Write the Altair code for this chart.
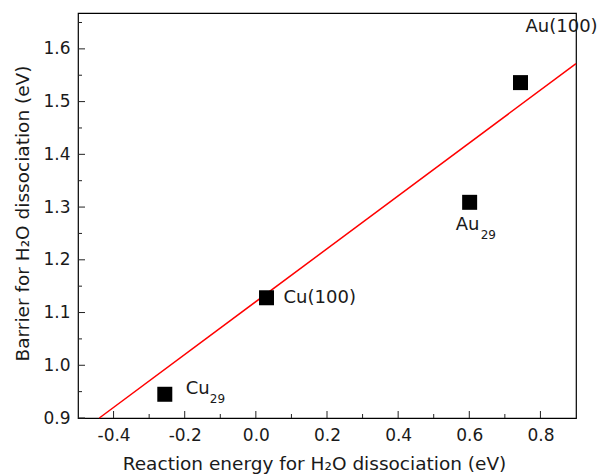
import altair as alt
import pandas as pd

# ---- data ----
materials = ["Cu29", "Cu(100)", "Au29", "Au(100)"]
reaction_energy = [-0.256, 0.030, 0.601, 0.744]
barrier = [0.945, 1.128, 1.309, 1.536]

fit_x = [-0.44, 0.90]
fit_y = [0.90, 1.572]

x_major = [-0.4, -0.2, 0.0, 0.2, 0.4, 0.6, 0.8]
x_minor = [-0.3, -0.1, 0.1, 0.3, 0.5, 0.7]
y_major = [0.9, 1.0, 1.1, 1.2, 1.3, 1.4, 1.5, 1.6]
y_minor = [0.95, 1.05, 1.15, 1.25, 1.35, 1.45, 1.55, 1.65]

FONT = "DejaVu Sans"
TXT = "#1a1a1a"
W, H = 498, 405

pts = pd.DataFrame({"material": materials, "x": reaction_energy, "y": barrier})
fit = pd.DataFrame({"x": fit_x, "y": fit_y})

xscale = alt.Scale(domain=[-0.5, 0.9], nice=False, zero=False)
yscale = alt.Scale(domain=[0.9, 1.668], nice=False, zero=False)

xaxis = alt.Axis(
    values=x_major, tickSize=0, domain=False, grid=False,
    labelExpr="datum.value < 0 ? '-' + format(-datum.value, '.1f') : format(datum.value, '.1f')",
    labelFont=FONT, labelFontSize=17, labelColor=TXT, labelPadding=9,
    title="Reaction energy for H\u2082O dissociation (eV)",
    titleFont=FONT, titleFontSize=18.5, titleFontWeight="normal", titleColor=TXT,
    titleX=236, titleY=45, titleBaseline="middle", titleAlign="center",
)
yaxis = alt.Axis(
    values=y_major, tickSize=0, domain=False, grid=False, format=".1f",
    labelFont=FONT, labelFontSize=17, labelColor=TXT, labelPadding=8,
    title="Barrier for H\u2082O dissociation (eV)",
    titleFont=FONT, titleFontSize=18.5, titleFontWeight="normal", titleColor=TXT,
    titleX=-56, titleY=200, titleAngle=-90, titleBaseline="middle", titleAlign="center",
)

line = alt.Chart(fit).mark_line(color="#ff0000", strokeWidth=1.5).encode(
    x=alt.X("x:Q", scale=xscale, axis=xaxis),
    y=alt.Y("y:Q", scale=yscale, axis=yaxis),
)

points = alt.Chart(pts).mark_point(
    shape="square", filled=True, color="black", size=225, opacity=1
).encode(
    x=alt.X("x:Q", scale=xscale),
    y=alt.Y("y:Q", scale=yscale),
)


def label(mat, text, dx, dy, size=18, baseline="middle"):
    return alt.Chart(pts).transform_filter(
        alt.datum.material == mat
    ).mark_text(
        text=text, align="left", baseline=baseline, dx=dx, dy=dy,
        font=FONT, fontSize=size, color=TXT,
    ).encode(
        x=alt.X("x:Q", scale=xscale),
        y=alt.Y("y:Q", scale=yscale),
    )


labels = [
    label("Cu(100)", "Cu(100)", 17, 0),
    label("Cu29", "Cu", 21, -5),
    label("Cu29", "29", 45, 9, size=12, baseline="alphabetic"),
    label("Au29", "Au", -14, 23),
    label("Au29", "29", 11, 37, size=12, baseline="alphabetic"),
    label("Au(100)", "Au(100)", 5, -56),
]


def xticks(vals, length):
    return alt.Chart(pd.DataFrame({"v": vals})).mark_rule(color="#222", strokeWidth=1).encode(
        x=alt.X("v:Q", scale=xscale),
        y=alt.value(H), y2=alt.value(H - length),
    )


def yticks(vals, length):
    return alt.Chart(pd.DataFrame({"v": vals})).mark_rule(color="#222", strokeWidth=1).encode(
        y=alt.Y("v:Q", scale=yscale),
        x=alt.value(0), x2=alt.value(length),
    )


chart = alt.layer(
    line,
    xticks(x_major, 7), xticks(x_minor, 4),
    yticks(y_major, 7), yticks(y_minor, 4),
    points,
    *labels,
).properties(
    width=W, height=H,
    autosize="none",
    background="white",
    padding={"left": 78, "top": 13, "right": 23, "bottom": 56},
).configure_view(stroke="black", strokeWidth=1.2)

chart.save("out.html", embed_options={"renderer": "svg", "actions": False})
